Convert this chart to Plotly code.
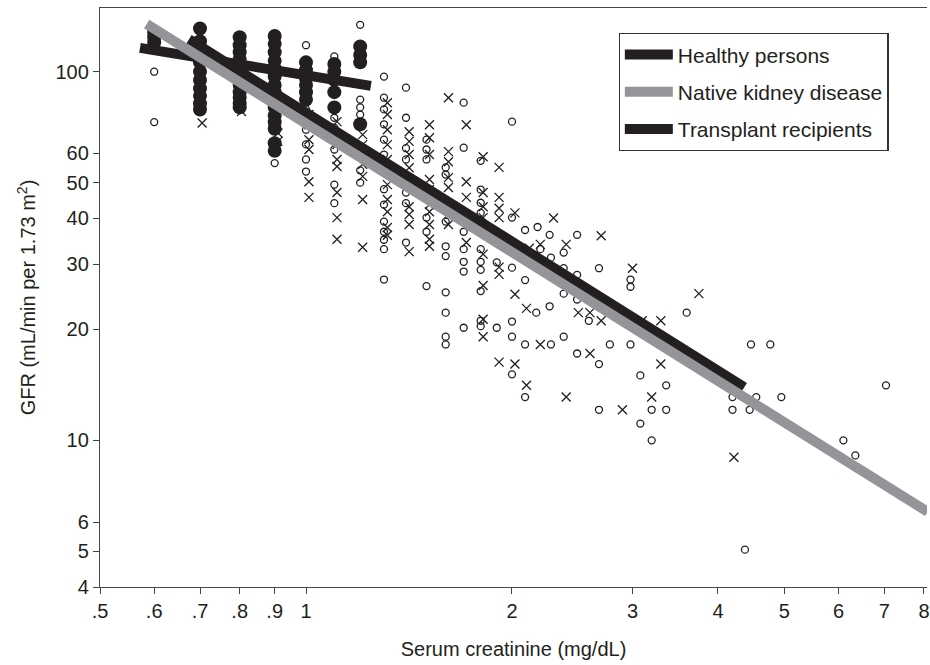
import plotly.graph_objects as go
import math

# ---------------- data ----------------
# Healthy persons (filled circles)
healthy_x = ([0.6] * 3 + [0.7] * 10 + [0.8] * 12 + [0.9] * 15 + [1.0] * 6 + [1.1] * 5 + [1.2] * 4)
healthy_y = [128, 124, 120,
             131, 121, 113, 106, 100, 95, 90, 86, 82, 79,
             124, 118, 113, 108, 104, 100, 96, 92, 88, 85, 82, 80,
             125, 119, 113, 107, 102, 97, 92, 88, 84, 80, 76, 73, 70, 64, 61,
             106, 101, 96, 92, 88, 84,
             105, 100, 95, 88, 80,
             117, 111, 106, 72]

# Native kidney disease (open circles)
native_x = [0.6, 0.6, 0.8, 0.9,
            1.0, 1.0, 1.0, 1.0, 1.0, 1.0, 1.0,
            1.1, 1.1, 1.1, 1.1, 1.1, 1.1,
            1.2, 1.2, 1.2, 1.2, 1.2, 1.2, 1.2,
            1.3, 1.3, 1.3, 1.3, 1.3, 1.3, 1.3, 1.3, 1.3, 1.3, 1.3, 1.3, 1.3,
            1.4, 1.4, 1.4, 1.4, 1.4, 1.4, 1.4,
            1.5, 1.5, 1.5, 1.5, 1.5, 1.5,
            1.6, 1.6, 1.6, 1.6, 1.6, 1.6, 1.6, 1.6, 1.6,
            1.7, 1.7, 1.7, 1.7, 1.7, 1.7, 1.7,
            1.8, 1.8, 1.8, 1.8, 1.8, 1.8, 1.8, 1.8, 1.8, 1.8,
            1.9, 1.9,
            2.0, 2.0, 2.0, 2.0, 2.0, 2.0,
            2.09, 2.18, 2.27, 2.49, 2.2, 2.38, 2.28, 2.09, 2.38, 2.49,
            2.68, 2.98, 2.98, 2.38, 2.49, 2.17, 2.27, 2.59, 3.6, 2.09,
            2.28, 2.38, 2.49, 2.68, 2.78, 2.98, 3.08, 3.36, 2.09, 2.68,
            3.2, 3.36, 4.47, 4.77, 4.2, 4.55, 4.95, 7.04, 4.2, 4.45,
            3.08, 3.2, 6.1, 6.35, 4.38]
native_y = [100, 73, 80, 56.5,
            118, 79, 74, 69.6, 63.5, 57.8, 53.6,
            110, 75, 70.5, 61.5, 49.4, 44,
            134, 84, 80, 76.5, 73, 54, 50,
            97, 85, 79, 72, 65.4, 59.6, 48, 43.6, 39.2, 36.8, 35, 33, 27.3,
            90.5, 75, 62, 57.8, 47, 44, 34.4,
            65.4, 61.5, 57.8, 40.2, 36.8, 26.2,
            55, 52.6, 39.2, 33.6, 31.6, 25.2, 22.2, 19.1, 18.2,
            82.4, 62.2, 36.8, 33, 30.5, 28.7, 20.2,
            57.3, 47.9, 44.1, 41.4, 33, 30.5, 29, 25.4, 21.1, 20.4,
            30.4, 20.2,
            73.2, 40.2, 29.4, 21, 19.1, 15.1,
            37.2, 37.9, 36.1, 36.1, 33, 32.3, 31.3, 27.2, 29.3, 28.1,
            29.3, 27.3, 26.1, 25, 24.1, 22.2, 23.1, 21.1, 22.2, 18.2,
            18.2, 19.1, 17.2, 16.1, 18.2, 18.2, 15.0, 14.1, 13.1, 12.1,
            12.1, 12.1, 18.2, 18.2, 13.1, 13.1, 13.1, 14.1, 12.1, 12.1,
            11.1, 10.0, 10.0, 9.1, 5.05]

# Transplant recipients (x markers)
transplant_x = [0.705, 0.805, 0.91, 0.91,
                1.01, 1.01, 1.01, 1.01, 1.01, 1.01,
                1.11, 1.11, 1.11, 1.11, 1.11, 1.11, 1.11, 1.11,
                1.21, 1.21, 1.21, 1.21, 1.21, 1.21,
                1.315, 1.315, 1.315, 1.315, 1.315, 1.315, 1.315, 1.315, 1.315, 1.315,
                1.415, 1.415, 1.415, 1.415, 1.415, 1.415, 1.415, 1.415,
                1.515, 1.515, 1.515, 1.515, 1.515, 1.515, 1.515, 1.515, 1.515, 1.515,
                1.615, 1.615, 1.615, 1.615, 1.615, 1.615, 1.615,
                1.715, 1.715, 1.715, 1.715,
                1.815, 1.815, 1.815, 1.815, 1.815, 1.815, 1.815, 1.815,
                1.915, 1.915, 1.915, 1.915, 1.915, 1.915, 1.915,
                2.02, 2.02, 2.02,
                2.3, 2.7, 2.2, 2.4, 2.12, 3.0, 2.1, 2.5, 2.6, 2.7,
                3.1, 3.3, 3.75, 2.2, 2.6, 3.3, 2.1, 2.4, 3.2, 2.9, 4.22]
transplant_y = [72.6, 78, 68.2, 64.7,
                76.5, 71.8, 65.4, 61.5, 50.3, 45.6,
                73.2, 67.5, 63.4, 57.8, 55.3, 47, 40.2, 35.1,
                67.5, 63.4, 56.1, 52, 45, 33.4,
                82.4, 76.5, 69.6, 63.4, 57.8, 49.4, 45, 41.7, 37.8, 36,
                68.7, 64.7, 59.6, 54.9, 43, 41, 38.5, 32.5,
                71.8, 66.2, 59.6, 51, 47.9, 43.6, 41.7, 38.5, 35.1, 33.6,
                85, 60.7, 57, 51.6, 48.5, 41, 38.5,
                71.8, 50.3, 45.6, 34.4,
                58.8, 47, 43, 40.2, 32, 26.3, 21.3, 19.1,
                55, 45.6, 42.6, 40.2, 29.5, 28.2, 16.3,
                41.4, 24.9, 16.1,
                40.1, 35.9, 34, 34, 33.2, 29.3, 22.8, 22.2, 22.2, 21.1,
                21.1, 21.1, 25, 18.2, 17.2, 16.1, 14.1, 13.1, 13.1, 12.1, 9.0]

# Regression lines (end points)
healthy_line_x = [0.572, 1.244]
healthy_line_y = [116, 91.5]
native_line_x = [0.585, 8.1]
native_line_y = [134.7, 6.4]
transplant_line_x = [0.6745, 4.37]
transplant_line_y = [122.4, 13.93]

line_names = ["Healthy persons", "Native kidney disease", "Transplant recipients"]

x_tickvals = [0.5, 0.6, 0.7, 0.8, 0.9, 1, 2, 3, 4, 5, 6, 7, 8]
x_ticktext = [".5", ".6", ".7", ".8", ".9", "1", "2", "3", "4", "5", "6", "7", "8"]
y_tickvals = [4, 5, 6, 10, 20, 30, 40, 50, 60, 100]
y_ticktext = ["4", "5", "6", "10", "20", "30", "40", "50", "60", "100"]

# ---------------- styles ----------------
BLACK = "#231f20"
GRAY = "#939598"
FONT = "Liberation Sans, Arial, sans-serif"

fig = go.Figure()

fig.add_trace(go.Scatter(x=native_x, y=native_y, mode="markers", showlegend=False,
                         marker=dict(symbol="circle-open", size=7, color=BLACK,
                                     line=dict(width=1.3, color=BLACK)),
                         hoverinfo="x+y"))
fig.add_trace(go.Scatter(x=transplant_x, y=transplant_y, mode="markers", showlegend=False,
                         marker=dict(symbol="x-thin-open", size=9, color=BLACK,
                                     line=dict(width=1.3, color=BLACK)),
                         hoverinfo="x+y"))
fig.add_trace(go.Scatter(x=healthy_x, y=healthy_y, mode="markers", showlegend=False,
                         marker=dict(symbol="circle", size=14, color=BLACK),
                         hoverinfo="x+y"))

fig.add_trace(go.Scatter(x=healthy_line_x, y=healthy_line_y, mode="lines",
                         name=line_names[0], legendrank=1, legendgroup="a",
                         line=dict(color=BLACK, width=10)))
fig.add_trace(go.Scatter(x=transplant_line_x, y=transplant_line_y, mode="lines",
                         name=line_names[2], legendrank=3, legendgroup="c",
                         line=dict(color=BLACK, width=10)))
fig.add_trace(go.Scatter(x=native_line_x, y=native_line_y, mode="lines",
                         name=line_names[1], legendrank=2, legendgroup="b",
                         line=dict(color=GRAY, width=10)))

fig.update_layout(
    width=930, height=665,
    margin=dict(l=100, r=0, t=8, b=78),
    plot_bgcolor="white", paper_bgcolor="white",
    font=dict(family=FONT, size=20, color=BLACK),
    legend=dict(x=0.627, y=0.9568, xanchor="left", yanchor="top",
                bgcolor="white", bordercolor="#333333", borderwidth=1.3,
                font=dict(family=FONT, size=21, color=BLACK),
                traceorder="grouped", tracegroupgap=7, itemwidth=48),
)

fig.update_xaxes(type="log", range=[math.log10(0.5), 0.9075],
                 tickvals=x_tickvals, ticktext=x_ticktext,
                 ticks="outside", ticklen=6, tickcolor="#444444", tickwidth=1,
                 showline=True, linecolor="#444444", linewidth=1.3, mirror=True,
                 showgrid=False, zeroline=False, ticklabeloverflow="allow",
                 tickfont=dict(family=FONT, size=20, color=BLACK),
                 title=dict(text="Serum creatinine (mg/dL)",
                            font=dict(family=FONT, size=20, color=BLACK), standoff=20))
fig.update_yaxes(type="log", range=[math.log10(4), 2.1728],
                 tickvals=y_tickvals, ticktext=y_ticktext,
                 ticks="outside", ticklen=6, tickcolor="#444444", tickwidth=1,
                 showline=True, linecolor="#444444", linewidth=1.3, mirror=False,
                 showgrid=False, zeroline=False,
                 tickfont=dict(family=FONT, size=20, color=BLACK),
                 title=dict(text="GFR (mL/min per 1.73 m<sup>2</sup>)",
                            font=dict(family=FONT, size=20, color=BLACK), standoff=14))

fig.write_html("out.html")
